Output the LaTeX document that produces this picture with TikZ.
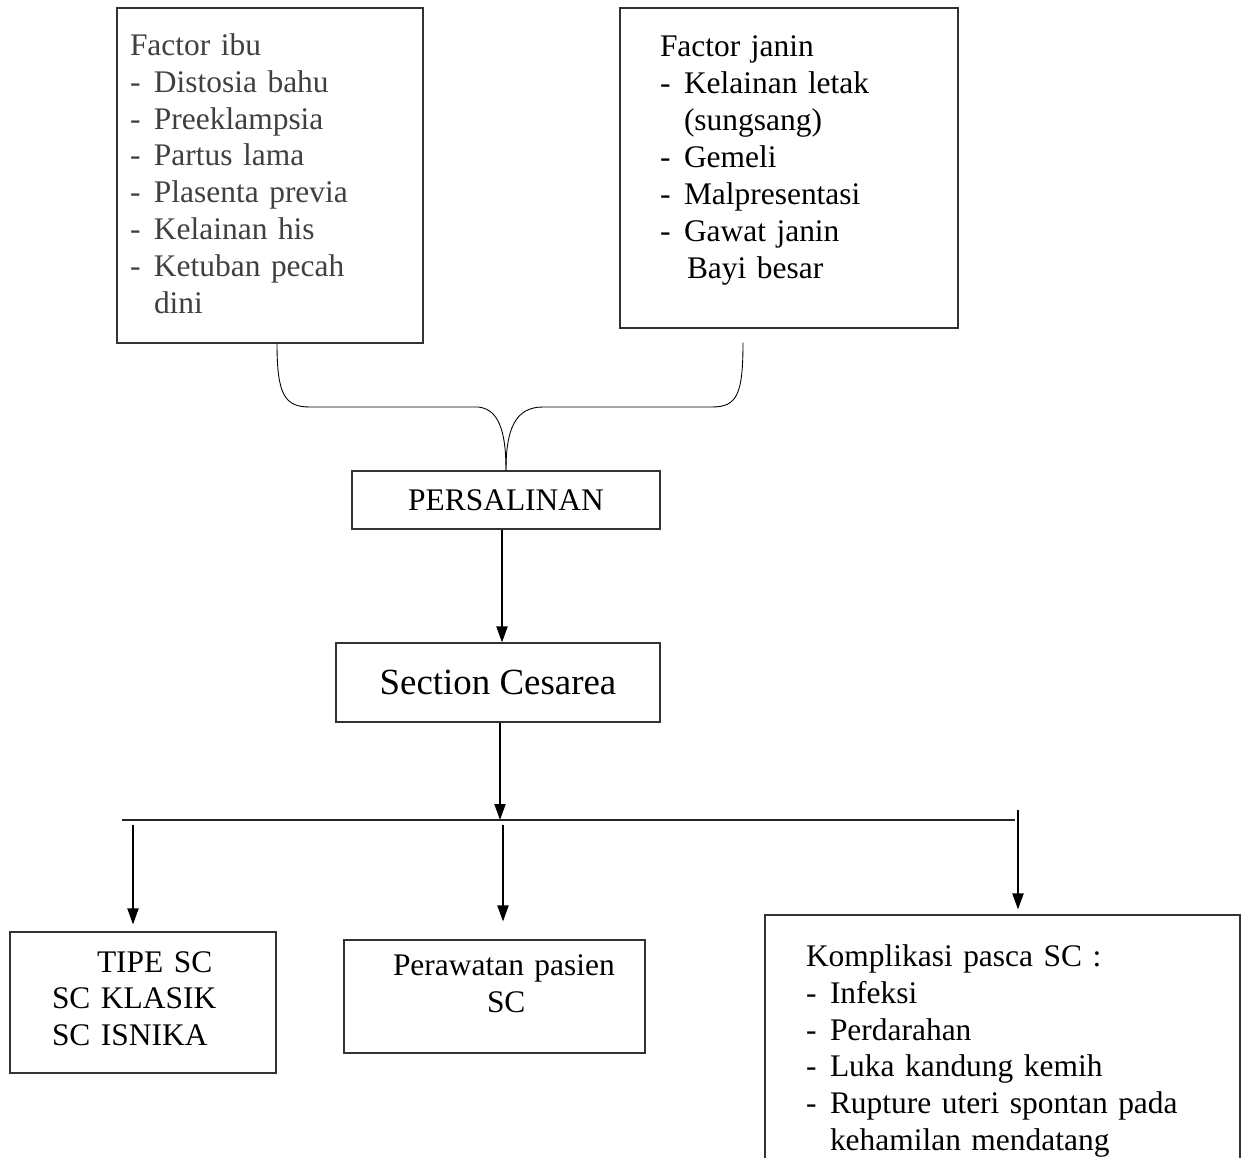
\documentclass[tikz,border=0pt]{standalone}
\usepackage{fontspec}
\setmainfont{Liberation Serif}
\usepackage{tikz}
\usetikzlibrary{arrows.meta, positioning, calc}
\newlength{\unitpx}
\setlength{\unitpx}{0.02cm}
\newcommand{\dashitem}[1]{\makebox[24\unitpx][l]{-}#1}
\newcommand{\hang}{\hspace*{24\unitpx}}
\tikzset{
  box/.style={draw=black!80, line width=0.6pt, align=left, inner ysep=0pt, font=\fontsize{17.9}{21}\selectfont},
  arr/.style={-{Triangle[length=0.32cm, width=0.22cm]}, line width=1.1pt},
  bus/.style={line width=0.8pt, draw=black!85},
}

\begin{document}
\begin{tikzpicture}[x=0.02cm, y=-0.02cm]
  \path[use as bounding box] (0,0) rectangle (1245,1158);
  \clip (0,0) rectangle (1245,1158);
  % faktor penyebab
  \node[box, text=black!75, text width=280\unitpx, inner xsep=13\unitpx, minimum height=335\unitpx] (ibu) at (270,175.5) {Factor ibu\\
    \dashitem{Distosia bahu}\\
    \dashitem{Preeklampsia}\\
    \dashitem{Partus lama}\\
    \dashitem{Plasenta previa}\\
    \dashitem{Kelainan his}\\
    \dashitem{Ketuban pecah}\\
    \hang dini\rule[-4\unitpx]{0pt}{0pt}};
  \node[box, text width=258\unitpx, inner xsep=40\unitpx, minimum height=320\unitpx] (janin) at (789,168) {Factor janin\\
    \dashitem{Kelainan letak}\\
    \hang(sungsang)\\
    \dashitem{Gemeli}\\
    \dashitem{Malpresentasi}\\
    \dashitem{Gawat janin}\\
    \hspace*{27\unitpx}Bayi besar\rule[-22\unitpx]{0pt}{0pt}};
  \node[box, align=center, minimum width=308\unitpx, minimum height=58\unitpx] (persal) at (506,500) {PERSALINAN};
  \node[box, align=center, minimum width=324\unitpx, minimum height=79\unitpx, font=\fontsize{21}{25}\selectfont] (sect) at (498,682.5) {Section Cesarea};
  % cabang bawah
  \node[box, text width=182\unitpx, inner xsep=42\unitpx, minimum height=141\unitpx] (tipe) at (143,1002.5) {\hspace*{45\unitpx}TIPE SC\\SC KLASIK\\SC ISNIKA\rule[-8\unitpx]{0pt}{0pt}};
  \node[box, text width=281\unitpx, inner xsep=10\unitpx, minimum height=113\unitpx] (rawat) at (494.5,996.5) {\hspace*{39\unitpx}Perawatan pasien\\
    \hspace*{133\unitpx}SC\rule[-26\unitpx]{0pt}{0pt}};
  \node[box, text width=393\unitpx, inner xsep=41\unitpx, minimum height=272\unitpx] (kompl) at (1002.5,1051) {Komplikasi pasca SC :\\
    \dashitem{Infeksi}\\
    \dashitem{Perdarahan}\\
    \dashitem{Luka kandung kemih}\\
    \dashitem{Rupture uteri spontan pada}\\
    \hang kehamilan mendatang};

  \draw[line width=0.5pt] ($(ibu.south)+(7,0)$) .. controls +(0,52) and +(-25,0) .. (310,407) -- (478,407) .. controls +(20,2) and +(0,-41) .. (persal.north);
  \draw[line width=0.5pt] ($(janin.south)+(-46,14)$) .. controls +(0,52) and +(25,0) .. (712,407) -- (543,407) .. controls +(-28,0) and +(0,-41) .. (persal.north);
  \draw[arr] ($(persal.south)+(-4,0)$) -- ($(sect.north)+(4,0)$);

  \coordinate (busL) at (122,820);
  \coordinate (busR) at (1015,820);
  \coordinate (hub) at (500,820);
  \draw[bus] (busL) -- (busR);
  \draw[arr] (sect.south -| hub) -- (hub);
  \coordinate (d1) at (133,825);
  \coordinate (d2) at (503,825);
  \coordinate (d3) at (1018,810);
  \draw[arr, shorten >=7\unitpx] (d1) -- (d1 |- tipe.north);
  \draw[arr, shorten >=18\unitpx] (d2) -- (d2 |- rawat.north);
  \draw[arr, shorten >=5\unitpx] (d3) -- (d3 |- kompl.north);
\end{tikzpicture}
\end{document}
